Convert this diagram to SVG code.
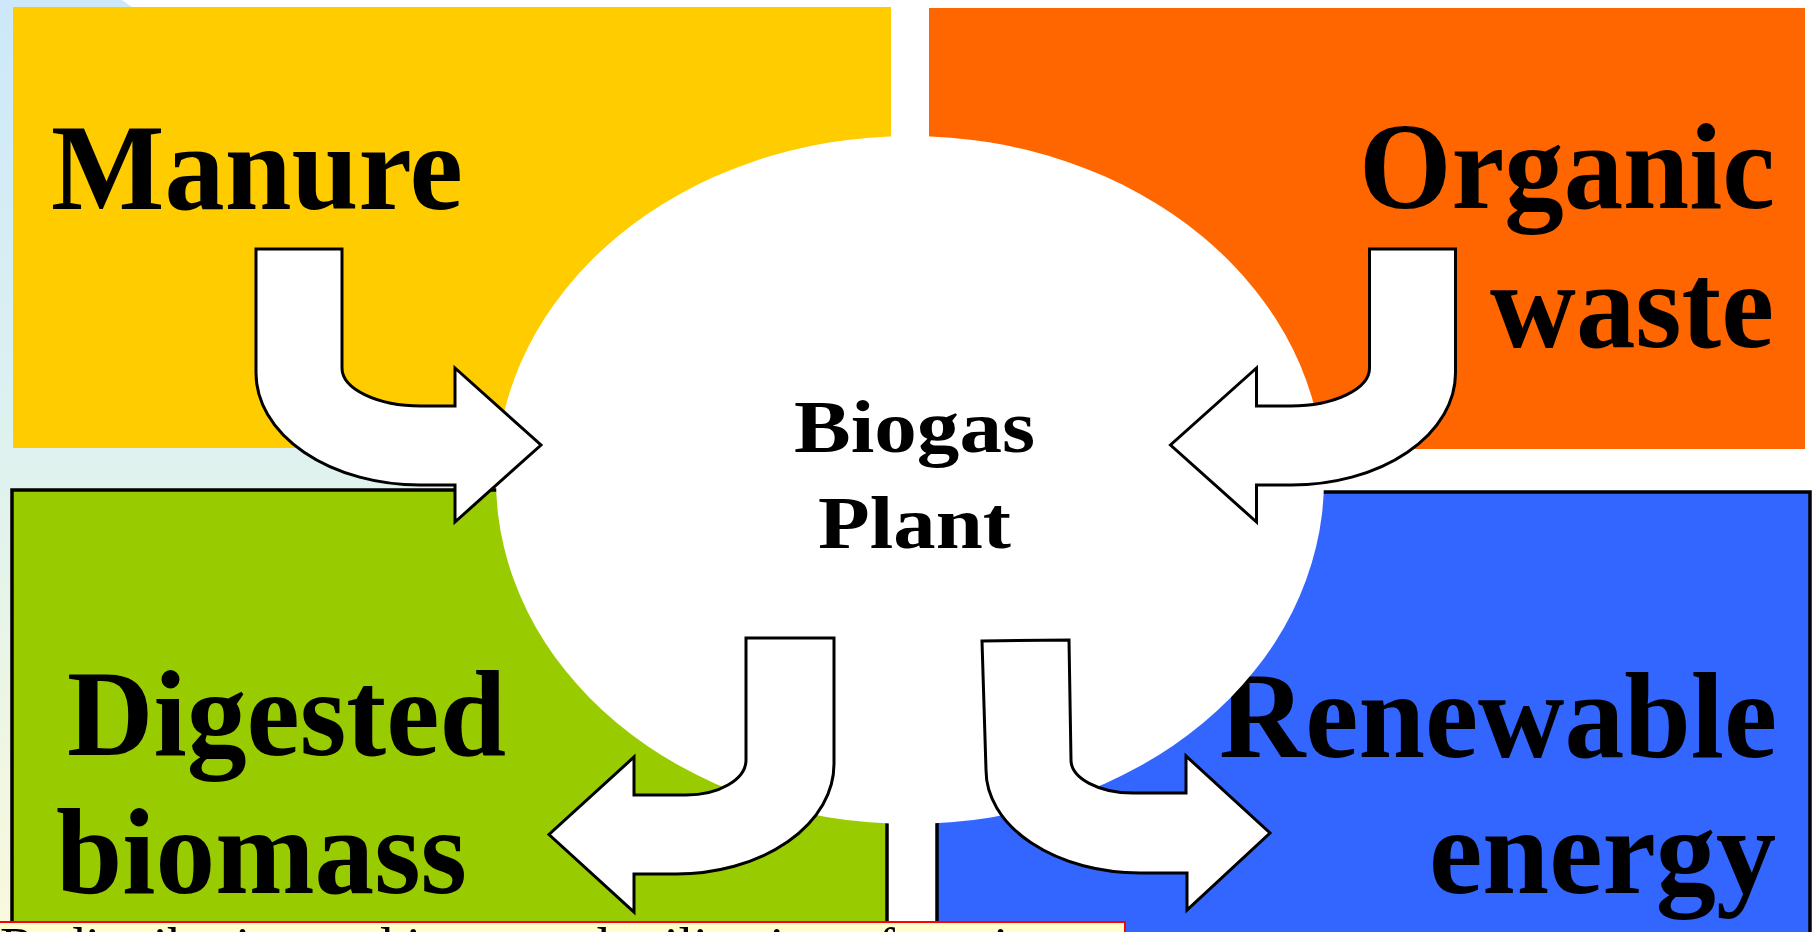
<svg xmlns="http://www.w3.org/2000/svg" width="1814" height="932" viewBox="0 0 1814 932">
  <defs>
    <linearGradient id="bgGrad" x1="0" y1="0" x2="0" y2="1">
      <stop offset="0" stop-color="#cce8fa"/>
      <stop offset="0.5" stop-color="#dff2ee"/>
      <stop offset="1" stop-color="#f9f9dc"/>
    </linearGradient>
    <style>
      .big { font-family: "Liberation Serif", "Times New Roman", serif; font-weight: bold; font-size: 122px; fill: #000; }
      .mid { font-family: "Liberation Serif", "Times New Roman", serif; font-weight: bold; font-size: 74px; fill: #000; }
      .cap { font-family: "Liberation Serif", "Times New Roman", serif; font-size: 53px; fill: #000; }
      .arrow { fill: #fff; stroke: #000; stroke-width: 3; stroke-linejoin: miter; }
      .framed { stroke: #000; stroke-width: 3.5; }
    </style>
  </defs>

  <rect x="0" y="0" width="1814" height="932" fill="#fff"/>
  <path d="M0,0 L122,0 L600,340 L600,932 L0,932 Z" fill="url(#bgGrad)"/>

  <g id="manure">
    <rect x="13" y="7" width="878" height="441" fill="#ffcc00"/>
    <text class="big" x="51" y="209" textLength="412" lengthAdjust="spacingAndGlyphs">Manure</text>
  </g>

  <g id="organic-waste">
    <rect x="929" y="8" width="876" height="441" fill="#ff6600"/>
    <text class="big" x="1359" y="208" textLength="416" lengthAdjust="spacingAndGlyphs">Organic</text>
    <text class="big" x="1490" y="347" textLength="284" lengthAdjust="spacingAndGlyphs">waste</text>
  </g>

  <g id="digested-biomass">
    <rect class="framed" x="12" y="490" width="875" height="460" fill="#99cc00"/>
    <text class="big" x="67" y="755" textLength="439" lengthAdjust="spacingAndGlyphs">Digested</text>
    <text class="big" x="56" y="893" textLength="411" lengthAdjust="spacingAndGlyphs">biomass</text>
  </g>

  <g id="renewable-energy">
    <rect class="framed" x="937" y="492" width="873" height="460" fill="#3366ff"/>
    <text class="big" x="1219" y="757" textLength="558" lengthAdjust="spacingAndGlyphs">Renewable</text>
    <text class="big" x="1429" y="893" textLength="347" lengthAdjust="spacingAndGlyphs">energy</text>
  </g>

  <g id="biogas-plant">
    <ellipse cx="910" cy="480" rx="414" ry="344" fill="#fff"/>
    <text class="mid" x="794" y="452" textLength="241" lengthAdjust="spacingAndGlyphs">Biogas</text>
    <text class="mid" x="818" y="548" textLength="193" lengthAdjust="spacingAndGlyphs">Plant</text>
  </g>

  <g id="connectors">
    <path class="arrow" d="M256,249 L342,249 L342,368 A79,38 0 0 0 421,406 L455,406 L455,368 L541,445 L455,522 L455,485 L420,485 A164,112 0 0 1 256,373 Z"/>
    <path class="arrow" d="M1455.5,249 L1369.5,249 L1369.5,368 A79,38 0 0 1 1290.5,406 L1256.5,406 L1256.5,368 L1170.5,445 L1256.5,522 L1256.5,485 L1291.5,485 A164,112 0 0 0 1455.5,373 Z"/>
    <path class="arrow" d="M746,638 L834,638 L834,764 A158,110 0 0 1 676,874 L634,874 L634,912 L549,834.5 L634,757 L634,795 L686,795 A60,35 0 0 0 746,760 Z"/>
    <path class="arrow" d="M982,641 L1069,640 L1071,760 A62,33 0 0 0 1133,793 L1186,793 L1186,756 L1270,833 L1187,910 L1187,873 L1140,873 A154,103 0 0 1 986,770 Z"/>
  </g>

  <g id="caption">
    <rect x="-2" y="922" width="1127" height="40" fill="#ffffcc" stroke="#ff0000" stroke-width="2"/>
    <text class="cap" x="0" y="964">Redistribution and improved utilization of nutrients</text>
  </g>
</svg>
